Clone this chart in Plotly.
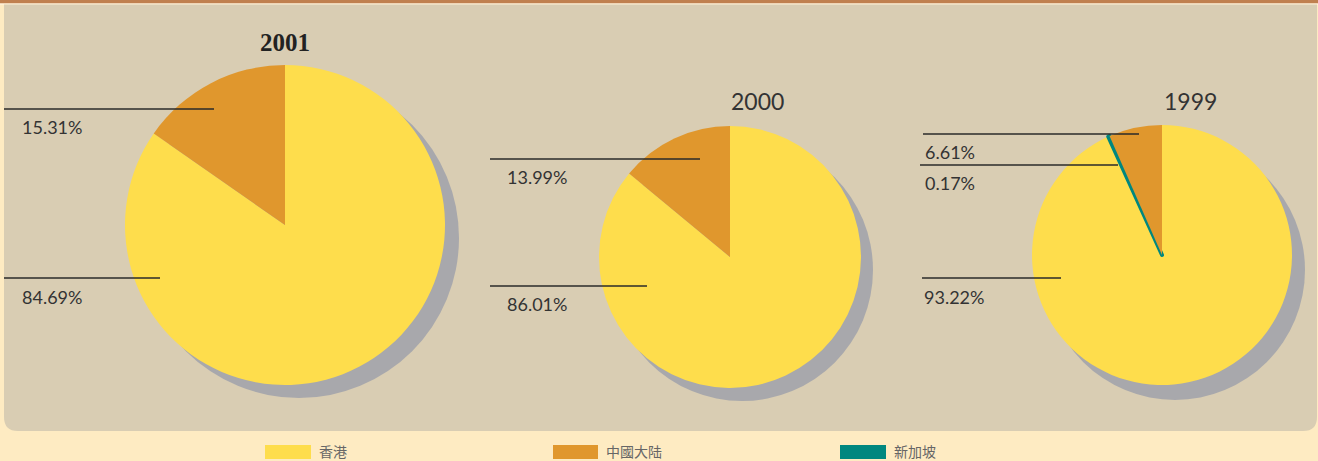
import plotly.graph_objects as go

# ---- data ----
years = ["2001", "2000", "1999"]
categories = ["香港", "中國大陆", "新加坡"]
hong_kong = [84.69, 86.01, 93.22]
mainland = [15.31, 13.99, 6.61]
singapore = [0.0, 0.0, 0.17]

# ---- styling / layout constants ----
W, H = 1318, 461
col_hk, col_cn, col_sg = "#FEDD4C", "#E0972D", "#00877F"
shadow_col = "#A8A8AC"
panel_col = "#D9CDB3"
bg_col = "#FEEBC2"
text_col = "#333333"

# pie geometry in pixels: (cx, cy, r, shadow dx, shadow dy)
pie_geom = [(285, 225, 160, 14, 13), (730, 257, 131, 12, 13), (1162, 255, 130, 13, 15)]
title_pos = [(285, 42), (757, 101), (1190, 101)]
title_font = [dict(family="Liberation Serif", size=25, color="#222222"),
              dict(family="Lato", size=23, color="#333333"),
              dict(family="Lato", size=23, color="#333333")]
# leader lines per pie per category: (x0, x1, y line, label x, label y)
leaders = {
    0: {"香港": (4, 160, 278, 20, 297), "中國大陆": (4, 214, 109, 20, 127)},
    1: {"香港": (490, 647, 286, 505, 304), "中國大陆": (490, 700, 159, 505, 177)},
    2: {"香港": (922, 1061, 278, 922, 297), "中國大陆": (923, 1139, 134, 923, 152),
        "新加坡": (920, 1118, 165, 923, 183)},
}
legend_boxes = [(265, 311), (553, 598), (840, 886)]


def dom(cx, cy, r):
    return dict(x=[(cx - r) / W, (cx + r) / W], y=[1 - (cy + r) / H, 1 - (cy - r) / H])


fig = go.Figure()
shapes = []
annotations = []

# panel background
shapes.append(dict(type="rect", xref="x", yref="y", x0=0, x1=W, y0=0, y1=3.5,
                   fillcolor="#C0804F", line=dict(width=0), layer="below"))
shapes.append(dict(type="rect", xref="x", yref="y", x0=0, x1=W, y0=3.5, y1=4.5,
                   fillcolor="#FFF6E6", line=dict(width=0), layer="below"))
rr = 14
x0p, x1p, y0p, y1p = 4, 1317, 4.5, 431
path = (f"M {x0p},{y0p} L {x1p},{y0p} L {x1p},{y1p - rr} Q {x1p},{y1p} {x1p - rr},{y1p} "
        f"L {x0p + rr},{y1p} Q {x0p},{y1p} {x0p},{y1p - rr} Z")
shapes.append(dict(type="path", xref="x", yref="y", path=path, fillcolor=panel_col,
                   line=dict(width=0), layer="below"))

for i, yr in enumerate(years):
    cx, cy, r, dx, dy = pie_geom[i]
    # shadow
    fig.add_trace(go.Pie(values=[1], domain=dom(cx + dx, cy + dy, r), sort=False,
                         marker=dict(colors=[shadow_col], line=dict(width=0)),
                         textinfo="none", hoverinfo="skip", showlegend=False))
    vals, labs, cols, lw = [], [], [], []
    ordered = [("香港", hong_kong[i], col_hk), ("新加坡", singapore[i], col_sg),
               ("中國大陆", mainland[i], col_cn)]
    for lab, v, c in ordered:
        if v > 0:
            vals.append(v)
            labs.append(lab)
            cols.append(c)
            lw.append(4 if lab == "新加坡" else 0)
    fig.add_trace(go.Pie(values=vals, labels=labs, domain=dom(cx, cy, r), sort=False,
                         direction="clockwise", rotation=0,
                         marker=dict(colors=cols, line=dict(color=cols, width=lw)),
                         textinfo="none", showlegend=False, name=yr))
    tx, ty = title_pos[i]
    annotations.append(dict(x=tx, y=ty, xref="x", yref="y", text=f"<b>{yr}</b>" if i == 0 else yr,
                            showarrow=False, font=title_font[i], xanchor="center", yanchor="middle"))
    for lab, v, c in ordered:
        if lab in leaders[i] and v > 0:
            lx0, lx1, ly, tx2, ty2 = leaders[i][lab]
            shapes.append(dict(type="line", xref="x", yref="y", x0=lx0, x1=lx1, y0=ly, y1=ly,
                               line=dict(color="#2a2a2a", width=1.3), layer="above"))
            annotations.append(dict(x=tx2, y=ty2, xref="x", yref="y", text=f"{v:.2f}%",
                                    showarrow=False, xanchor="left", yanchor="middle",
                                    font=dict(family="Lato", size=18, color=text_col)))

# legend (manual)
for (bx0, bx1), lab, c in zip(legend_boxes, categories, [col_hk, col_cn, col_sg]):
    shapes.append(dict(type="rect", xref="x", yref="y", x0=bx0, x1=bx1, y0=445, y1=459,
                       fillcolor=c, line=dict(width=0), layer="above"))
    annotations.append(dict(x=bx1 + 6, y=451, xref="x", yref="y", text=lab, showarrow=False,
                            xanchor="left", yanchor="middle",
                            font=dict(family="Noto Sans CJK TC", size=14, color="#666666")))

fig.update_layout(
    width=W, height=H, margin=dict(l=0, r=0, t=0, b=0),
    paper_bgcolor=bg_col, plot_bgcolor="rgba(0,0,0,0)",
    xaxis=dict(range=[0, W], visible=False, fixedrange=True),
    yaxis=dict(range=[H, 0], visible=False, fixedrange=True),
    shapes=shapes, annotations=annotations, showlegend=False,
)
fig.write_html("out.html", config={"displayModeBar": False},
               post_script="document.body.style.margin='0';document.body.style.padding='0';")
